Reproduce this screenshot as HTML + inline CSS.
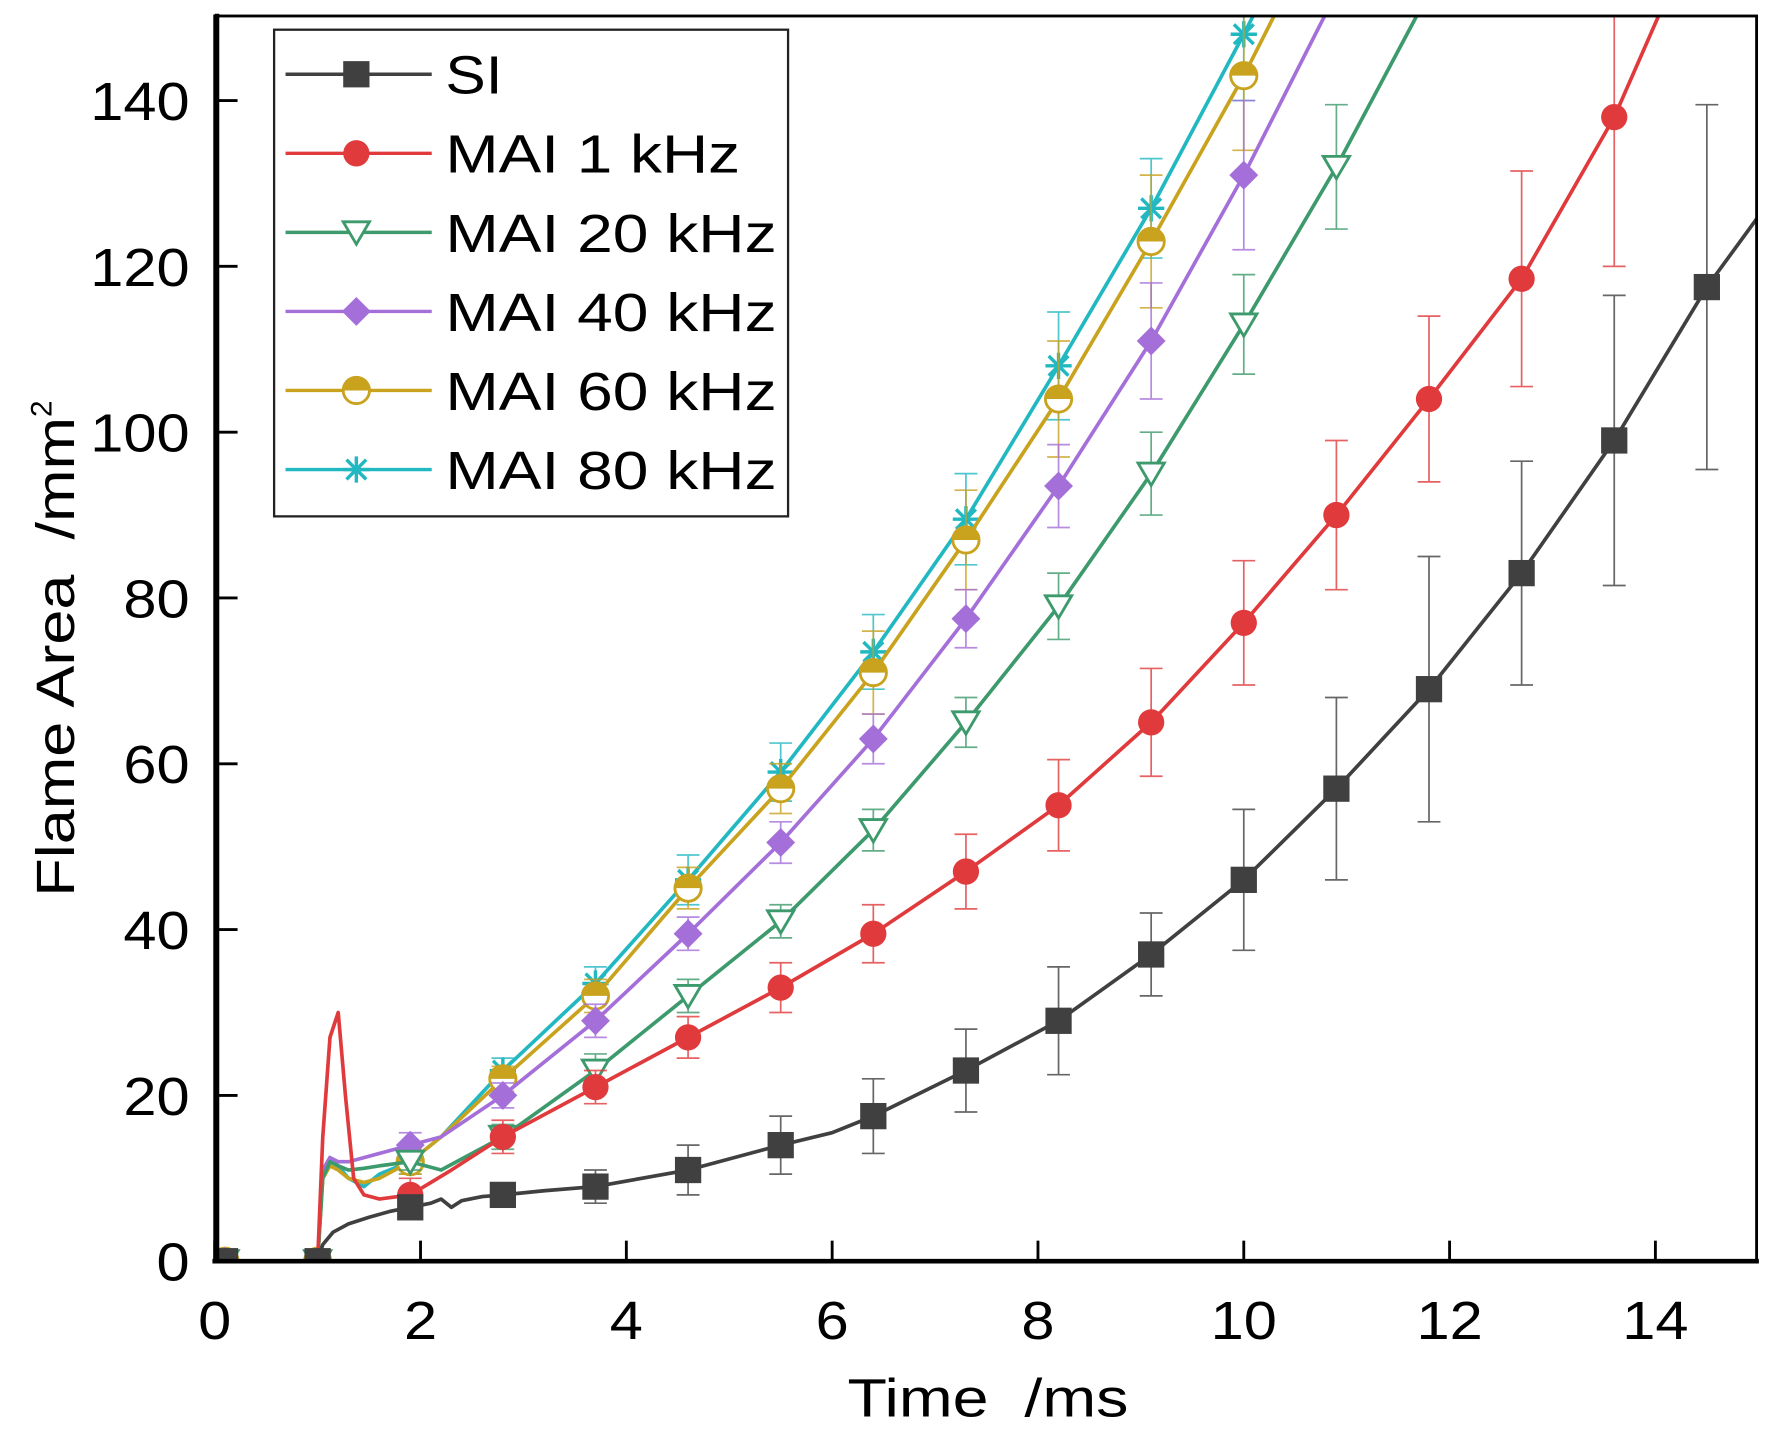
<!DOCTYPE html>
<html><head><meta charset="utf-8"><style>
html,body{margin:0;padding:0;background:#fff;}
svg{display:block;font-family:"Liberation Sans",Arial,sans-serif;}
</style></head><body>
<svg id="chart" width="1792" height="1436" viewBox="0 0 1569 1257" preserveAspectRatio="none" xmlns="http://www.w3.org/2000/svg">
<defs><clipPath id="plotclip"><rect x="188" y="14" width="1350" height="1092"/></clipPath></defs>
<g id="grid"></g>
<g id="series" clip-path="url(#plotclip)"></g>
<g id="axes"></g>
<g id="legend"></g>
</svg>
<script>
const NS="http://www.w3.org/2000/svg";
const markerX=[0.1,1.0,1.9,2.8,3.7,4.6,5.5,6.4,7.3,8.2,9.1,10.0,10.9,11.8,12.7,13.6,14.5];
const siVals=[0,0,6.5,8,9,11,14,17.5,23,29,37,46,57,69,83,99,117.5];
const siErr=[0,0,1,1,2,3,3.5,4.5,5,6.5,5,8.5,11,16,13.5,17.5,22];
const mai1Vals=[0,0,8,15,21,27,33,39.5,47,55,65,77,90,104,118.5,138,160];
const mai1Err=[0,0,2,2,2,2.5,3,3.5,4.5,5.5,6.5,7.5,9,10,13,18,0];
const mai20Vals=[0,0,12,15,23,32,41,52,65,79,95,113,132,153,175,200,225];
const mai20Err=[0,0,1,1.5,2,2,2,2.5,3,4,5,6,7.5,0,0,0,0];
const mai40Vals=[0,0,14,20,29,39.5,50.5,63,77.5,93.5,111,131,153,176,200,225,250];
const mai40Err=[0,0,1.5,1.5,2,2,2.5,3,3.5,5,7,9,0,0,0,0,0];
const mai60Vals=[0,0,12,22,32,45,57,71,87,104,123,143,165,190,215,240,265];
const mai60Err=[0,0,1.5,1.5,2,2.5,3,5,6,7,8,9,0,0,0,0,0];
const mai80Vals=[0,0,12,23,33.5,46,59,73.5,89.5,108,127,148,170,195,220,245,270];
const mai80Err=[0,0,1.5,1.5,2,3,3.5,4.5,5.5,6.5,6,8,0,0,0,0,0];
const siEarlyX=[1.0,1.05,1.15,1.3,1.5,1.7,1.9,2.1,2.2,2.3,2.4,2.6,2.8,3.2,3.7,4.6,5.5,6.0,6.4,7.3,8.2,9.1,10,10.9,11.8,12.7,13.6,14.5,15];
const siEarlyV=[0,2,3.5,4.5,5.3,6,6.5,7,7.5,6.5,7.3,7.8,8,8.5,9,11,14,15.5,17.5,23,29,37,46,57,69,83,99,117.5,126];
const mai1EarlyX=[1.0,1.05,1.12,1.2,1.27,1.35,1.45,1.6,1.9,2.3,2.8,3.7,4.6,5.5,6.4,7.3,8.2,9.1,10,10.9,11.8,12.7,13.6,14.2];
const mai1EarlyV=[0,15,27,30,20,10,8,7.5,8,11,15,21,27,33,39.5,47,55,65,77,90,104,118.5,138,155];
const transX=[1.0,1.05,1.12,1.2,1.3,1.45,1.6,1.9,2.2,2.8];
const mai20T=[0,10,12,11.5,11,11.2,11.5,12,11,15];
const mai40T=[0,11,12.5,12,12,12.5,13,14,15,20];
const mai60T=[0,10,11.5,11,10,9.5,10,12,15,22];
const mai80T=[0,11,12.5,11.5,10,9,10.5,12,15,23];
const xTicks=[0,2,4,6,8,10,12,14];
const yTicks=[0,20,40,60,80,100,120,140];
const legendLabels=["SI","MAI 1 kHz","MAI 20 kHz","MAI 40 kHz","MAI 60 kHz","MAI 80 kHz"];

const X=t=>188+t*90.1;
const Y=v=>1104-v*7.257;
function el(tag,attrs,parent){const e=document.createElementNS(NS,tag);for(const k in attrs)e.setAttribute(k,attrs[k]);parent.appendChild(e);return e;}
const gS=document.getElementById('series'),gA=document.getElementById('axes'),gL=document.getElementById('legend');

function marker(kind,color,cx,cy,parent,s){
  s=s||11.5;let m;
  if(kind==='square'){m=el('rect',{x:cx-s,y:cy-s,width:2*s,height:2*s,fill:color},parent);}
  else if(kind==='circle'){m=el('circle',{cx:cx,cy:cy,r:s,fill:color},parent);}
  else if(kind==='tri'){m=el('polygon',{points:`${cx-s},${cy-s*0.8} ${cx+s},${cy-s*0.8} ${cx},${cy+s*0.9}`,fill:'#fff',stroke:color,'stroke-width':2.5},parent);}
  else if(kind==='diamond'){m=el('polygon',{points:`${cx},${cy-s*1.1} ${cx+s*1.1},${cy} ${cx},${cy+s*1.1} ${cx-s*1.1},${cy}`,fill:color},parent);}
  else if(kind==='half'){const g=el('g',{},parent);el('circle',{cx:cx,cy:cy,r:s,fill:'#fff',stroke:color,'stroke-width':2.5},g);el('path',{d:`M${cx-s},${cy} A${s},${s} 0 0 1 ${cx+s},${cy} Z`,fill:color},g);m=g;}
  else {const g=el('g',{stroke:color,'stroke-width':3},parent);el('line',{x1:cx-s,y1:cy,x2:cx+s,y2:cy},g);el('line',{x1:cx,y1:cy-s,x2:cx,y2:cy+s},g);el('line',{x1:cx-s*0.75,y1:cy-s*0.75,x2:cx+s*0.75,y2:cy+s*0.75},g);el('line',{x1:cx-s*0.75,y1:cy+s*0.75,x2:cx+s*0.75,y2:cy-s*0.75},g);m=g;}
  
  
  return m;
}
function drawSeries(name,color,kind,lx,lv,vals,err){
  const g=el('g',{},gS);
  
  
  markerX.forEach((t,i)=>{if(err[i]>0){const eg=el('g',{stroke:color,'stroke-width':1.5,opacity:0.8},g);
    
    
    el('line',{x1:X(t),y1:Y(vals[i]+err[i]),x2:X(t),y2:Y(vals[i]-err[i])},eg);
    el('line',{x1:X(t)-10,y1:Y(vals[i]+err[i]),x2:X(t)+10,y2:Y(vals[i]+err[i])},eg);
    el('line',{x1:X(t)-10,y1:Y(vals[i]-err[i]),x2:X(t)+10,y2:Y(vals[i]-err[i])},eg);}});
  const pts=[[X(0),Y(0)]].concat(lx.map((t,i)=>[X(t),Y(lv[i])]));
  const ln=el('polyline',{points:pts.map(p=>p.join(',')).join(' '),fill:'none',stroke:color,'stroke-width':3.2,'stroke-linejoin':'round'},g);
  
  
  markerX.forEach((t,i)=>marker(kind,color,X(t),Y(vals[i]),g));
}
function mergeT(tx,tv,vals){const lx=tx.slice(),lv=tv.slice();markerX.forEach((t,i)=>{if(t>tx[tx.length-1]){lx.push(t);lv.push(vals[i]);}});return [lx,lv];}
let a;
a=mergeT(transX,mai80T,mai80Vals);drawSeries('mai-80khz','#22b8c2','star',a[0],a[1],mai80Vals,mai80Err);
a=mergeT(transX,mai60T,mai60Vals);drawSeries('mai-60khz','#c9a21e','half',a[0],a[1],mai60Vals,mai60Err);
a=mergeT(transX,mai40T,mai40Vals);drawSeries('mai-40khz','#a56fd9','diamond',a[0],a[1],mai40Vals,mai40Err);
a=mergeT(transX,mai20T,mai20Vals);drawSeries('mai-20khz','#3d9a6c','tri',a[0],a[1],mai20Vals,mai20Err);
drawSeries('mai-1khz','#e03a3c','circle',mai1EarlyX,mai1EarlyV,mai1Vals,mai1Err);
drawSeries('si','#404040','square',siEarlyX,siEarlyV,siVals,siErr);

const fr=el('rect',{x:188,y:14,width:1350,height:1090,fill:'none',stroke:'#000','stroke-width':2.5},gA);


const xa=el('line',{x1:186,y1:1104,x2:1540,y2:1104,stroke:'#000','stroke-width':4},gA);


const ya=el('line',{x1:190,y1:12,x2:190,y2:1106,stroke:'#000','stroke-width':4},gA);


xTicks.forEach(t=>{
  el('line',{x1:X(t),y1:1104,x2:X(t),y2:1086,stroke:'#000','stroke-width':2.5},gA);
  const s=String(t);
  const tx=el('text',{x:X(t),y:1172,'font-size':47,'text-anchor':'middle',fill:'#000',textLength:s.length*29,lengthAdjust:'spacingAndGlyphs'},gA);
  tx.textContent=s;
  
  
});
yTicks.forEach(v=>{
  el('line',{x1:190,y1:Y(v),x2:208,y2:Y(v),stroke:'#000','stroke-width':2.5},gA);
  const s=String(v);
  const tx=el('text',{x:166-s.length*29,y:Y(v)+17,'font-size':47,fill:'#000',textLength:s.length*29,lengthAdjust:'spacingAndGlyphs'},gA);
  tx.textContent=s;
  
  
});
const xt=el('text',{x:742,y:1240,'font-size':47,fill:'#000',textLength:246,lengthAdjust:'spacingAndGlyphs'},gA);
xt.textContent='Time\u00a0\u00a0/ms';


const yt=el('text',{x:0,y:0,'font-size':47,fill:'#000',transform:'translate(65,785) rotate(-90)'},gA);
yt.innerHTML='<tspan textLength="420" lengthAdjust="spacingAndGlyphs">Flame Area&#160;&#160;/mm</tspan><tspan dy="-20" font-size="26">2</tspan>';



const lb=el('rect',{x:240,y:26,width:450,height:426,fill:'#fff',stroke:'#222','stroke-width':2},gL);


const lc=['#404040','#e03a3c','#3d9a6c','#a56fd9','#c9a21e','#22b8c2'];
const lk=['square','circle','tri','diamond','half','star'];
const lw=[50,258,290,290,290,290];
legendLabels.forEach((lab,i)=>{
  const y=65+i*69.2;
  const g=el('g',{},gL);
  
  
  el('line',{x1:250,y1:y,x2:378,y2:y,stroke:lc[i],'stroke-width':3},g);
  marker(lk[i],lc[i],312,y,g);
  const t=el('text',{x:390,y:y+17,'font-size':47,fill:'#000',textLength:lw[i],lengthAdjust:'spacingAndGlyphs'},g);
  t.textContent=lab;
});
</script>
</body></html>
